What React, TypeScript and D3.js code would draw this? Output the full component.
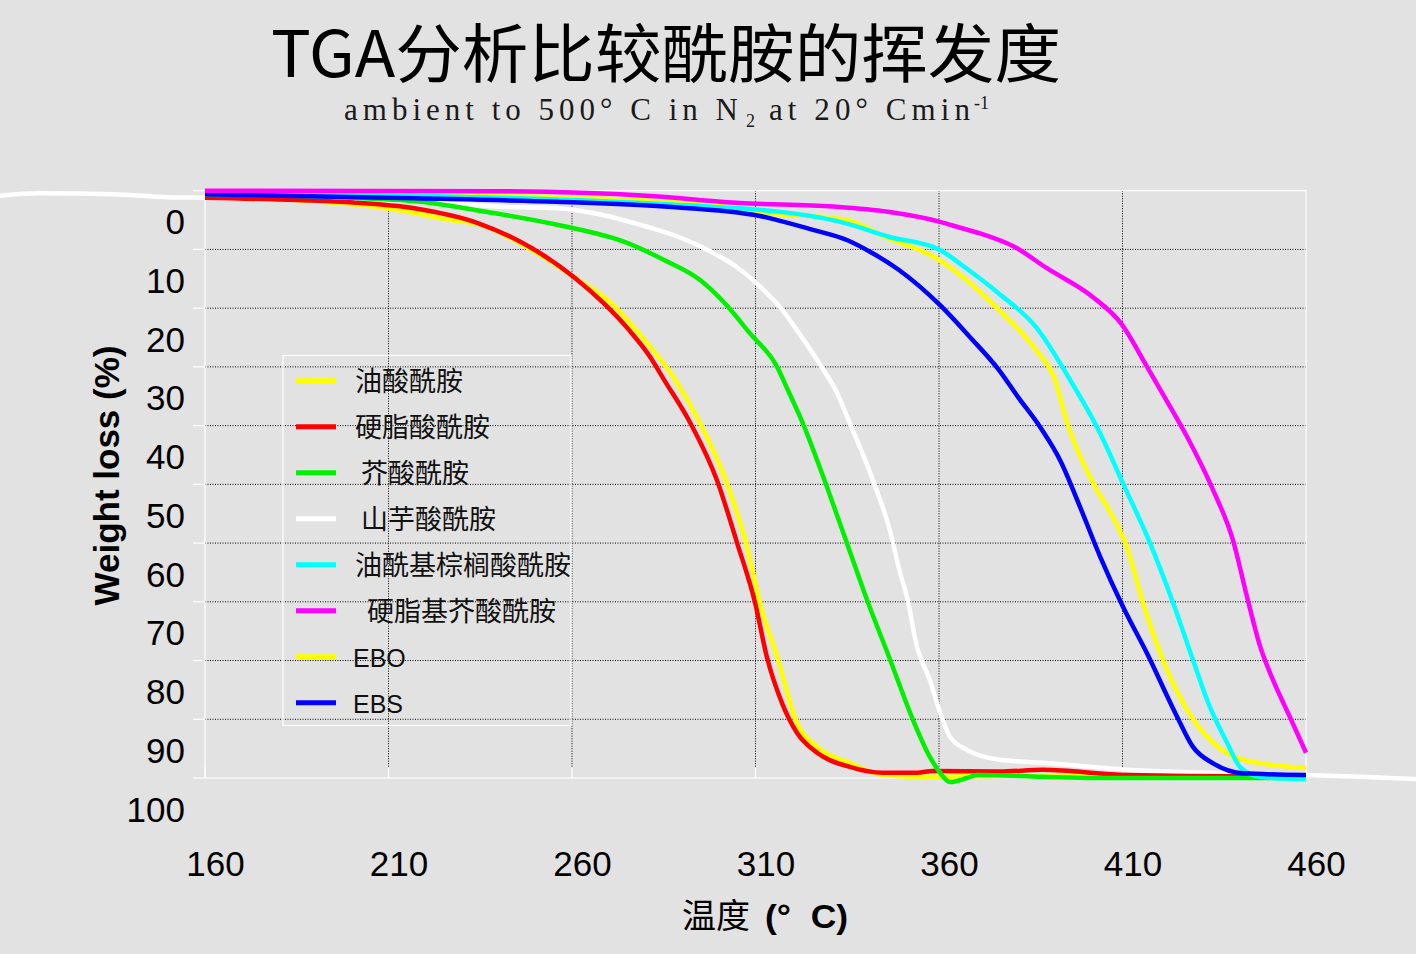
import React, { useRef, useEffect } from "react";
import { select, scaleLinear, line, curveMonotoneX } from "d3";

// [temperature °C, weight loss %]
const oleamide: [number, number][] = [
  [160, 0.8], [185, 1.6], [207, 2.8], [217, 3.8], [227, 5.0], [235, 5.8], [249, 10.1],
  [261, 14.9], [270.6, 19.1], [277.4, 23.7], [288.1, 32.2], [294.9, 39.6], [302.2, 49.8],
  [307.7, 60.7], [311.2, 70.2], [315.9, 79.4], [321.3, 90.6], [326.8, 94.7], [335.7, 97.4],
  [344.7, 99.5], [354, 99.8], [380, 99.6], [420, 99.7], [460, 99.8],
];
const stearamide: [number, number][] = [
  [160, 1.2], [185, 1.6], [200.6, 2.0], [217, 3.0], [234.7, 5.6], [249.1, 9.8], [260.3, 14.6],
  [268.7, 19.2], [275.5, 23.7], [281.3, 28.3], [285.1, 32.2], [292.2, 39.5], [299.5, 49.3],
  [305, 60], [309.9, 70.2], [313.1, 79.4], [317.2, 87.2], [321.3, 92.3], [326.8, 95.7],
  [335.7, 98.1], [344.7, 99.1], [354, 99.1], [358.4, 98.8], [376.6, 98.9], [388.3, 98.6],
  [411.2, 99.5], [460, 99.8],
];
const erucamide: [number, number][] = [
  [160, 0.6], [200, 1.2], [218.9, 1.9], [236.6, 3.6], [255.9, 5.8], [275.5, 9.0], [285.1, 11.8],
  [294.9, 15.2], [301.7, 19.2], [308.5, 24.3], [315.9, 30.0], [318.5, 33.5], [322.9, 39.6],
  [329.5, 50.5], [334.9, 60], [340.4, 69.7], [346.7, 79.9], [352.9, 90.1], [357.5, 96.4],
  [360.3, 99.1], [363, 100.7], [367.6, 100.0], [370.4, 99.5], [388.3, 99.8], [402, 100], [460, 100],
];
const behenamide: [number, number][] = [
  [104, 0.85], [115, 0.45], [135, 0.6], [150, 1.1], [160, 1.2], [200, 1.4], [220, 1.9],
  [239.3, 2.7], [255.9, 3.0], [265.7, 3.8], [280.2, 6.1], [290, 8.1], [297.9, 10.4],
  [304.7, 12.9], [311.2, 16.3], [316.9, 20.0], [321.9, 24.3], [328, 30.0], [331.8, 33.9],
  [335.7, 39.6], [342, 49.3], [346.6, 57.8], [349.4, 65.1], [351.3, 69.2], [354, 77.7],
  [357.5, 83.3], [360.3, 88.9], [363, 93.0], [367.6, 95.2], [376.6, 96.9], [388.3, 97.4],
  [411.2, 98.6], [460, 99.5], [474.7, 99.8], [490, 100.2],
];
const oleylPalmitamide: [number, number][] = [
  [160, 0.3], [210, 0.8], [260, 1.6], [300, 2.8], [305.8, 3.0], [334.9, 5.6], [346.1, 7.8],
  [360.3, 10.1], [366.3, 12.7], [376.3, 17.5], [386.4, 23.2], [395.7, 32.2], [403.9, 41.3],
  [410.1, 49.8], [417.5, 60], [423.8, 70.2], [429.2, 79.9], [433.8, 87.9], [438.5, 94.0],
  [442, 98.1], [447.5, 99.8], [460, 100.2],
];
const stearylErucamide: [number, number][] = [
  [160, 0.0], [239.3, 0.1], [281.3, 0.9], [305.8, 2.1], [331.1, 2.7], [346.1, 3.6],
  [360.3, 5.3], [366.3, 6.4], [371.4, 7.3], [380.4, 9.5], [389.4, 13.2], [401.7, 18.0],
  [409.6, 22.6], [416.7, 30.0], [421.9, 35.6], [427.6, 41.9], [434.7, 51.0], [440.1, 59.5],
  [443.9, 69.1], [447.5, 77.6], [451, 83.3], [455.6, 89.6], [460, 95.7],
];
const ebo: [number, number][] = [
  [160, 0.2], [210, 0.6], [260, 1.2], [300, 2.5], [305.8, 3.3], [334.9, 5.0], [346.1, 8.1],
  [358.4, 11.2], [366.3, 14.6], [376.3, 20.3], [386.4, 27.1], [391.6, 32.2], [394.9, 39.5],
  [402, 49.8], [407.4, 55.6], [411.2, 60.7], [415.6, 70.2], [421, 79.9], [427.6, 88.4],
  [434.7, 94], [442.8, 96.9], [460, 98.3],
];
const ebs: [number, number][] = [
  [160, 0.6], [217, 1.3], [255.9, 1.9], [285.1, 2.7], [311.2, 4.3], [315.9, 5.0], [325.9, 6.7],
  [334.9, 8.4], [341.2, 10.4], [349.1, 13.5], [360.3, 19.5], [368.4, 24.9], [376.3, 30.5],
  [381.5, 35.1], [387.5, 40.2], [393, 45.9], [398.4, 53.8], [403.9, 62.3], [410.1, 70.8],
  [416.7, 78.8], [424.9, 89.6], [429.2, 94.7], [434.7, 97.5], [442.8, 99.2], [460, 99.5],
];

const seriesNames = [
  "油酸酰胺", "硬脂酸酰胺", " 芥酸酰胺", " 山芋酸酰胺",
  "油酰基棕榈酸酰胺", "  硬脂基芥酸酰胺", "EBO", "EBS",
];
const seriesData = [
  oleamide, stearamide, erucamide, behenamide,
  oleylPalmitamide, stearylErucamide, ebo, ebs,
];
const seriesColors = [
  "#ffff00", "#ff0000", "#00f000", "#ffffff",
  "#00ffff", "#ff00ff", "#ffff00", "#0000ff",
];
// paint order (index into the series above)
const drawOrder = [0, 3, 1, 2, 6, 4, 7, 5];

const xTicks = [160, 210, 260, 310, 360, 410, 460];
const yTicks = [0, 10, 20, 30, 40, 50, 60, 70, 80, 90, 100];

const W = 1416;
const H = 954;
const BG = "#e2e2e2";
const CJK = "'Noto Sans CJK SC', sans-serif";
const SANS = "'Liberation Sans', Arial, sans-serif";
const SERIF = "'Liberation Serif', serif";

const App: React.FC = () => {
  const svgRef = useRef<SVGSVGElement>(null);

  useEffect(() => {
    const svg = select(svgRef.current);
    svg.selectAll("*").remove();

    const left = 205, right = 1306, top = 190.7, bottom = 778;
    const x = scaleLinear().domain([160, 460]).range([left, right]);
    const y = scaleLinear().domain([0, 100]).range([top, bottom]);

    svg.append("rect").attr("width", W).attr("height", H).attr("fill", BG);

    // title
    svg.append("text")
      .attr("x", 271).attr("y", 77)
      .attr("textLength", 790).attr("lengthAdjust", "spacingAndGlyphs")
      .style("font-family", CJK).style("font-size", "64px").attr("fill", "#000")
      .text("TGA分析比较酰胺的挥发度");

    const sub = svg.append("g").style("font-family", SERIF).attr("fill", "#1a1a1a");
    sub.append("text").attr("x", 344).attr("y", 120)
      .attr("textLength", 394).attr("lengthAdjust", "spacing")
      .style("font-size", "31px").style("white-space", "pre")
      .text("ambient to 500° C in N");
    sub.append("text").attr("x", 746).attr("y", 127).style("font-size", "18px").text("2");
    sub.append("text").attr("x", 769).attr("y", 120)
      .attr("textLength", 201).attr("lengthAdjust", "spacing")
      .style("font-size", "31px").style("white-space", "pre")
      .text("at 20° Cmin");
    sub.append("text").attr("x", 974).attr("y", 109).style("font-size", "18px").text("-1");

    // grid
    const grid = svg.append("g").attr("stroke", "#000").attr("stroke-width", 1)
      .attr("stroke-dasharray", "1,1.5");
    grid.selectAll("line.h").data(yTicks.slice(1, -1)).join("line")
      .attr("x1", left).attr("x2", right)
      .attr("y1", (d) => y(d)).attr("y2", (d) => y(d));
    grid.selectAll("line.v").data(xTicks.slice(1, -1)).join("line")
      .attr("class", "v")
      .attr("y1", top).attr("y2", bottom - 11)
      .attr("x1", (d) => x(d)).attr("x2", (d) => x(d));

    // frame and ticks (white)
    svg.append("rect").attr("x", left).attr("y", top)
      .attr("width", right - left).attr("height", bottom - top)
      .attr("fill", "none").attr("stroke", "#fff").attr("stroke-width", 1.2);
    svg.append("g").selectAll("line").data(yTicks).join("line")
      .attr("x1", left - 12).attr("x2", left)
      .attr("y1", (d) => y(d)).attr("y2", (d) => y(d))
      .attr("stroke", "#fff").attr("stroke-width", 1.2);
    svg.append("g").selectAll("line").data(xTicks).join("line")
      .attr("x1", (d) => x(d)).attr("x2", (d) => x(d))
      .attr("y1", bottom - 11).attr("y2", bottom)
      .attr("stroke", "#fff").attr("stroke-width", 1.2);

    // tick labels
    svg.append("g").selectAll("text").data(yTicks).join("text")
      .attr("x", 185).attr("y", (d) => y(d) + 43.5)
      .attr("text-anchor", "end")
      .style("font-family", SANS).style("font-size", "35px").attr("fill", "#000")
      .text((d) => d);
    svg.append("g").selectAll("text").data(xTicks).join("text")
      .attr("x", (d) => x(d) + 10.5).attr("y", 876)
      .attr("text-anchor", "middle")
      .style("font-family", SANS).style("font-size", "35px").attr("fill", "#000")
      .text((d) => d);

    // axis titles
    svg.append("text")
      .attr("transform", "translate(119,475.5) rotate(-90)")
      .attr("text-anchor", "middle")
      .style("font-family", SANS).style("font-size", "35px").style("font-weight", "bold")
      .attr("fill", "#000")
      .text("Weight loss (%)");
    svg.append("text").attr("x", 682).attr("y", 928)
      .style("font-family", CJK).style("font-size", "34px").attr("fill", "#000")
      .text("温度");
    svg.append("text").attr("x", 765).attr("y", 928)
      .attr("textLength", 83).attr("lengthAdjust", "spacingAndGlyphs")
      .style("font-family", SANS).style("font-size", "34px").style("font-weight", "bold")
      .style("white-space", "pre").attr("fill", "#000")
      .text("(°  C)");

    // legend
    const lg = svg.append("g");
    lg.append("rect").attr("x", 283).attr("y", 355.5).attr("width", 288).attr("height", 370)
      .attr("fill", "none").attr("stroke", "#fff").attr("stroke-width", 1.2);
    seriesNames.forEach((name, i) => {
      const cy = 380.7 + i * 46;
      lg.append("line").attr("x1", 296).attr("x2", 336).attr("y1", cy).attr("y2", cy)
        .attr("stroke", seriesColors[i]).attr("stroke-width", 5);
      const latin = /^[A-Z]+$/.test(name);
      lg.append("text").attr("x", latin ? 353 : 355).attr("y", cy + 10)
        .style("font-family", latin ? SANS : CJK)
        .style("font-size", latin ? "25px" : "27px")
        .style("white-space", "pre").attr("fill", "#111")
        .text(name);
    });

    // curves
    const path = line<[number, number]>()
      .x((d) => x(d[0]))
      .y((d) => y(d[1]))
      .curve(curveMonotoneX);
    drawOrder.forEach((i) => {
      svg.append("path").datum(seriesData[i]).attr("d", path)
        .attr("fill", "none").attr("stroke", seriesColors[i])
        .attr("stroke-width", 4.5).attr("stroke-linejoin", "round");
    });
  }, []);

  return (
    <svg
      ref={svgRef}
      width={W}
      height={H}
      style={{ position: "absolute", left: 0, top: 0, display: "block" }}
    />
  );
};

export default App;
